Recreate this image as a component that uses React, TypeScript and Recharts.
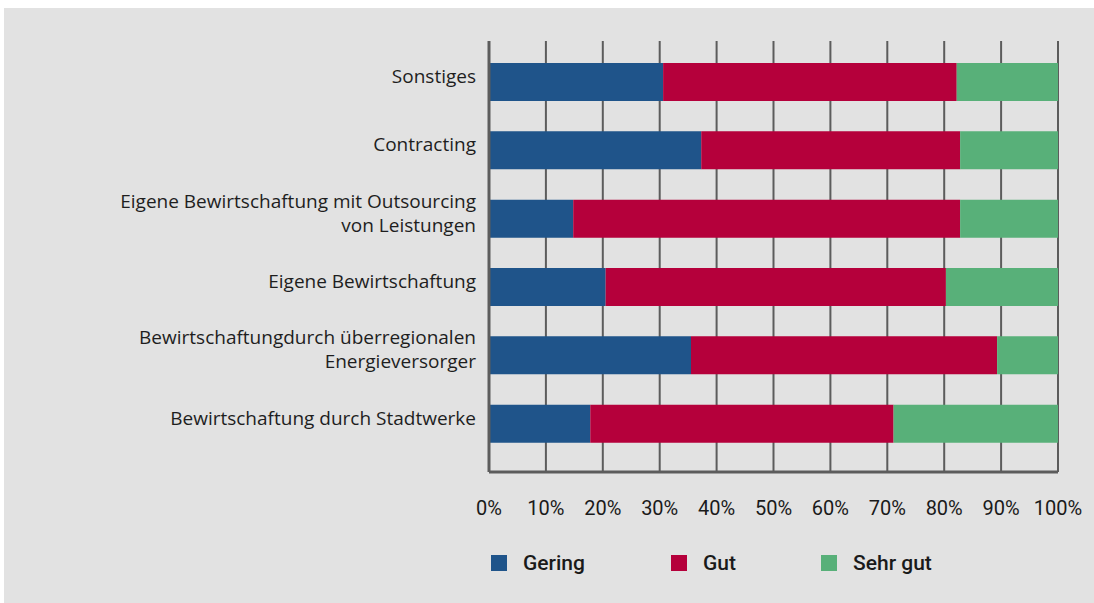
import React from 'react';
import { BarChart, Bar, XAxis, YAxis, CartesianGrid, Legend } from 'recharts';

const categories = [
  'Sonstiges',
  'Contracting',
  'Eigene Bewirtschaftung mit Outsourcing\nvon Leistungen',
  'Eigene Bewirtschaftung',
  'Bewirtschaftungdurch überregionalen\nEnergieversorger',
  'Bewirtschaftung durch Stadtwerke',
];
const gering = [30.6, 37.3, 14.8, 20.5, 35.5, 17.8];
const gut = [51.6, 45.5, 68.0, 59.8, 53.8, 53.3];
const sehrGut = [17.8, 17.2, 17.2, 19.7, 10.7, 28.9];
const xTicks = [0, 10, 20, 30, 40, 50, 60, 70, 80, 90, 100];

const series = [
  { key: 'gering', name: 'Gering', color: '#1F548A', width: 180 },
  { key: 'gut', name: 'Gut', color: '#B5003B', width: 150 },
  { key: 'sehrGut', name: 'Sehr gut', color: '#58B079', width: 150 },
];

const data = categories.map((name, i) => ({
  name,
  gering: gering[i],
  gut: gut[i],
  sehrGut: sehrGut[i],
}));

const CategoryTick = (props: any) => {
  const { x, y, payload } = props;
  const lines = String(payload.value).split('\n');
  const lh = 24;
  const start = -((lines.length - 1) * lh) / 2 - 6;
  return (
    <text
      x={x}
      y={y}
      textAnchor="end"
      fill="#1e1e1e"
      fontFamily="'Open Sans', sans-serif"
      fontWeight={400}
      fontSize={19}
    >
      {lines.map((l, i) => (
        <tspan key={i} x={x} y={y + start + i * lh} dy="0.36em">
          {l}
        </tspan>
      ))}
    </text>
  );
};

const LegendContent = () => (
  <div style={{ display: 'flex', height: 30, alignItems: 'center' }}>
    {series.map((s) => (
      <div key={s.key} style={{ display: 'flex', alignItems: 'center', width: s.width }}>
        <span style={{ display: 'inline-block', width: 16, height: 16, background: s.color, marginRight: 16 }} />
        <span style={{ fontFamily: 'Roboto, sans-serif', fontWeight: 500, fontSize: 21, color: '#1a1a1a' }}>
          {s.name}
        </span>
      </div>
    ))}
  </div>
);

export default function App() {
  return (
    <div style={{ position: 'absolute', left: 4, top: 8, width: 1090, height: 595, background: '#E2E2E2' }}>
      <BarChart
        width={1090}
        height={595}
        data={data}
        layout="vertical"
        margin={{ top: 33, right: 36, left: 0, bottom: 41 }}
      >
        <CartesianGrid horizontal={false} vertical stroke="#5c5c5c" strokeWidth={2} />
        <XAxis
          type="number"
          domain={[0, 100]}
          ticks={xTicks}
          tickFormatter={(v) => `${v}%`}
          interval={0}
          height={60}
          tickLine={false}
          tickSize={0}
          tickMargin={29}
          axisLine={{ stroke: '#5c5c5c', strokeWidth: 3 }}
          tick={{ fill: '#1a1a1a', fontSize: 20, fontFamily: 'Roboto, sans-serif' }}
        />
        <YAxis
          type="category"
          dataKey="name"
          width={485}
          interval={0}
          tickLine={false}
          tickSize={0}
          tickMargin={13}
          padding={{ top: 7, bottom: 14 }}
          axisLine={{ stroke: '#5c5c5c', strokeWidth: 3 }}
          tick={<CategoryTick />}
        />
        {series.map((s) => (
          <Bar key={s.key} dataKey={s.key} name={s.name} stackId="a" fill={s.color} barSize={38} isAnimationActive={false} />
        ))}
        <Legend
          verticalAlign="bottom"
          content={<LegendContent />}
          wrapperStyle={{ top: 540, left: 487, width: 600 }}
        />
      </BarChart>
    </div>
  );
}
